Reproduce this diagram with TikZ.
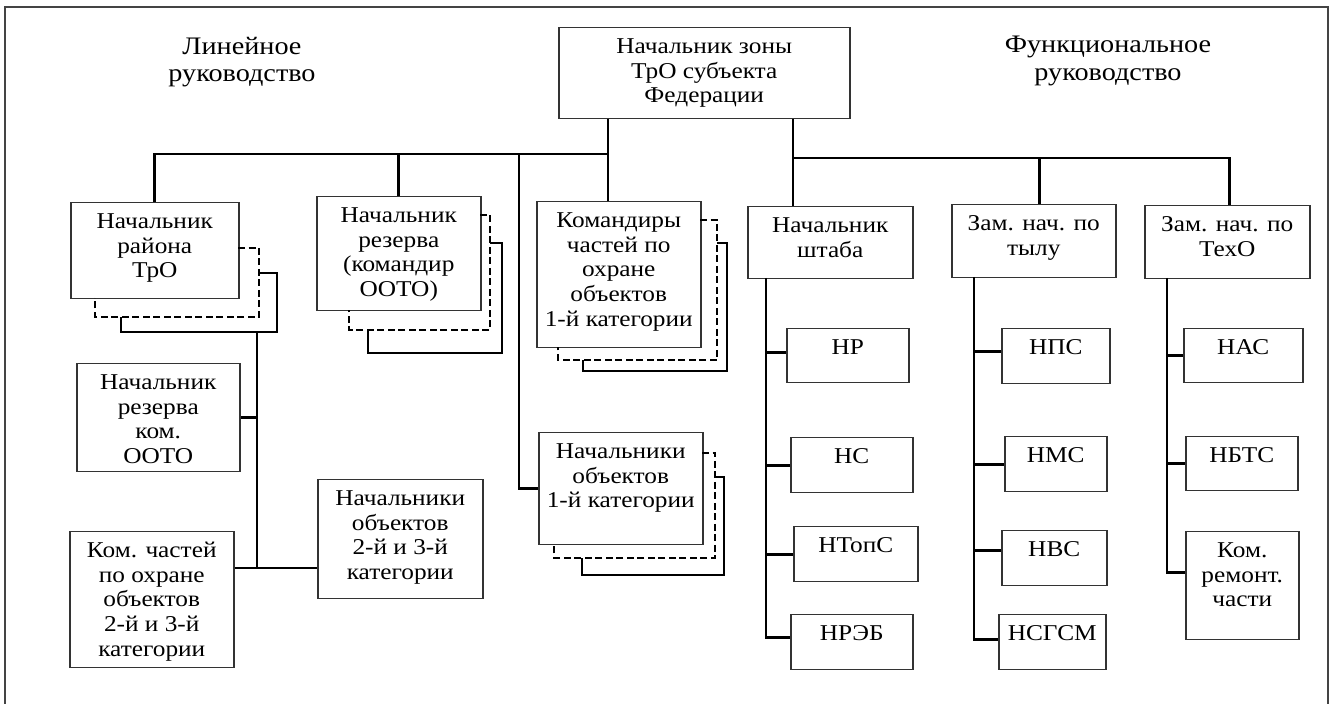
\documentclass[tikz,border=0pt]{standalone}
\usepackage{fontspec}
\setmainfont[FakeStretch=1.12]{Liberation Serif}
\newlength{\pxu}
\setlength{\pxu}{0.5pt}
\definecolor{framegray}{HTML}{444444}
\definecolor{boxgray}{HTML}{333333}

\tikzset{
  orgbox/.style 2 args={draw=boxgray, line width=0.75pt, inner sep=0pt, anchor=north west,
    execute at begin node={\begin{minipage}[t][#2\pxu][t]{#1\pxu}\centering\rule{0pt}{12.8pt}},
    execute at end node={\end{minipage}}},
  head/.style={align=center, inner sep=0pt, anchor=north, font=\fontsize{12.6}{13.6}\selectfont},
  link/.style={line width=1.4pt},
  stackline/.style={line width=1.4pt},
  stackdash/.style={line width=1.4pt, dash pattern=on 3.5pt off 1.75pt}
}

\begin{document}
\begin{tikzpicture}[x=0.5pt, y=-0.5pt, font=\fontsize{11.3}{12.4}\selectfont]
    \useasboundingbox (0,0) rectangle (1330,704);
    \draw[framegray, line width=0.7pt] (5,704) -- (5,7) -- (1328,7) -- (1328,704);

    % Headings
    \node[head] (linhead) at (242,37) {Линейное\\руководство};
    \node[head] (funchead) at (1108,36) {Функциональное\\руководство};

    % Top
    \node[orgbox={291}{91}] (zone) at (558,27) {Начальник зоны\\ТрО субъекта\\Федерации};

    % Linear side
    \node[orgbox={168}{96}] (raion) at (70,202) {Начальник\\района\\ТрО};
    \node[orgbox={164}{114}] (rezerv) at (316,196) {Начальник\\резерва\\(командир\\ООТО)};
    \node[orgbox={164}{146}] (kom1) at (536,201) {Командиры\\частей по\\охране\\объектов\\1-й категории};
    \node[orgbox={164}{112}] (nach1) at (538,432) {Начальники\\объектов\\1-й категории};
    \node[orgbox={163}{108}] (rezkom) at (76,363) {Начальник\\резерва\\ком.\\ООТО};
    \node[orgbox={165}{119}] (nach23) at (317,479) {Начальники\\объектов\\2-й и 3-й\\категории};
    \node[orgbox={164}{136}] (komch) at (69,531) {Ком. частей\\по охране\\объектов\\2-й и 3-й\\категории};

    % Stacked copies
    \draw[stackdash] (238,248) -| (259,317) -| (95,298);
    \draw[stackline] (259,273) -| (277,332) -| (121,317);
    \draw[stackdash] (480,215) -| (490,330) -| (349,310);
    \draw[stackline] (490,243) -| (502,353) -| (368,330);
    \draw[stackdash] (700,220) -| (717,360) -| (558,347);
    \draw[stackline] (717,243) -| (727,371) -| (583,360);
    \draw[stackdash] (702,453) -| (715,558) -| (554,544);
    \draw[stackline] (715,477) -| (724,575) -| (582,558);

    % Functional side
    \node[orgbox={165}{72}] (shtab) at (747,206) {Начальник\\штаба};
    \node[orgbox={164}{73}] (tyl) at (951,204) {Зам. нач. по\\тылу};
    \node[orgbox={165}{73}] (texo) at (1144,205) {Зам. нач. по\\ТехО};

    \node[orgbox={122}{54}] (hr) at (786,328) {НР};
    \node[orgbox={122}{55}] (hs) at (790,437) {НС};
    \node[orgbox={124}{55}] (htop) at (793,526) {НТопС};
    \node[orgbox={122}{55}] (hreb) at (790,614) {НРЭБ};

    \node[orgbox={108}{55}] (nps) at (1001,328) {НПС};
    \node[orgbox={102}{55}] (nms) at (1004,436) {НМС};
    \node[orgbox={105}{55}] (nvs) at (1001,530) {НВС};
    \node[orgbox={107}{55}] (nsgsm) at (998,614) {НСГСМ};

    \node[orgbox={119}{54}] (nas) at (1183,328) {НАС};
    \node[orgbox={112}{54}] (nbts) at (1185,436) {НБТС};
    \node[orgbox={113}{108}] (remont) at (1185,531) {Ком.\\ремонт.\\части};

    % Links, linear
    \coordinate (lbus) at (608,154);
    \coordinate (ldrop) at (519,154);
    \draw[link] (zone.south -| lbus) -- (lbus |- kom1.north);
    \draw[link] (lbus) -| (raion.north);
    \draw[link] (rezerv.north) -- (rezerv.north |- lbus);
    \draw[link] (ldrop) |- (nach1.west);

    \coordinate (raionv) at (257,332);
    \coordinate (lowj) at (257,568);
    \draw[link] (raionv) -- (lowj);
    \draw[link] (raionv |- rezkom.east) -- (rezkom.east);
    \draw[link] (komch.east |- lowj) -- (nach23.west |- lowj);

    % Links, functional
    \coordinate (rbus) at (793,158);
    \draw[link] (zone.south -| rbus) -- (rbus |- shtab.north);
    \draw[link] (rbus) -| ([xshift=1.25pt]texo.north);
    \draw[link] ([xshift=3pt]tyl.north) -- ([xshift=3pt]tyl.north |- rbus);

    \coordinate (shtabv) at (766,278);
    \draw[link] (shtabv) |- ([yshift=1.5pt]hr.west) (shtabv) |- (hs.west)
        (shtabv) |- (htop.west) (shtabv) |- ([yshift=2.5pt]hreb.west);
    \coordinate (tylv) at (974,277);
    \draw[link] (tylv) |- ([yshift=2.25pt]nps.west) (tylv) |- (nms.west)
        (tylv) |- ([yshift=3.75pt]nvs.west) (tylv) |- ([yshift=1.25pt]nsgsm.west);
    \coordinate (texov) at (1167,278);
    \draw[link] (texov) |- (nas.west) (texov) |- (nbts.west)
        (texov) |- ([yshift=6.5pt]remont.west);
\end{tikzpicture}
\end{document}
